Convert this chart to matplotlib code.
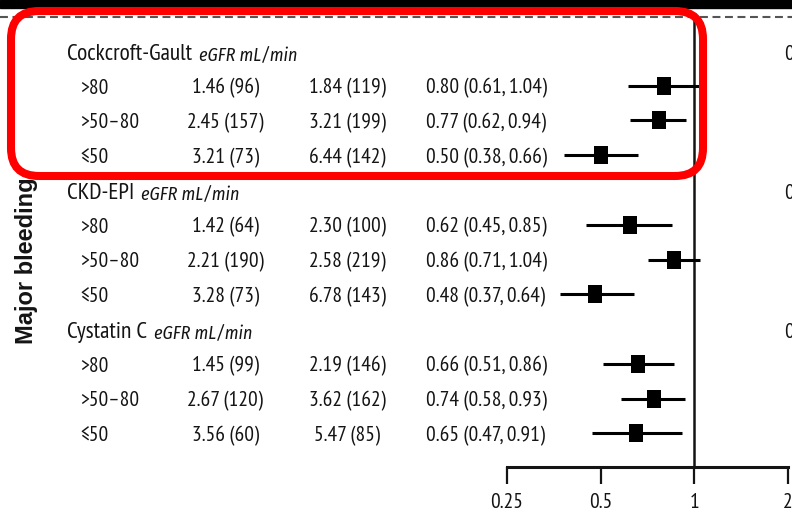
import numpy as np
import matplotlib
matplotlib.use('Agg')
import matplotlib.pyplot as plt
from matplotlib import font_manager
from matplotlib.path import Path
from matplotlib.patches import FancyBboxPatch, Rectangle
from matplotlib.lines import Line2D
from matplotlib.transforms import IdentityTransform, blended_transform_factory


def pick(cands, style='normal'):
    """ First installed family from cands that has the given style. """
    have = {(f.name, f.style) for f in font_manager.fontManager.ttflist}
    for c in cands:
        if (c, style) in have:
            return c
    return 'DejaVu Sans'


BODY = pick(['PT Sans Narrow', 'Fira Sans Condensed', 'Asap Condensed', 'Archivo Narrow'])
ITAL = pick(['PT Sans Narrow', 'Fira Sans Condensed', 'Asap Condensed', 'Archivo Narrow'], 'italic')
plt.rcParams['font.family'] = [BODY, 'DejaVu Sans']

# eGFR subgroups for major bleeding: event rate (n events) per arm, HR (95% CI)
groups = ['Cockcroft-Gault', 'CKD-EPI', 'Cystatin C']
strata = ['>80', '>50–80', '≤50']
rate_a = [1.46, 2.45, 3.21, 1.42, 2.21, 3.28, 1.45, 2.67, 3.56]
n_a = [96, 157, 73, 64, 190, 73, 99, 120, 60]
rate_b = [1.84, 3.21, 6.44, 2.30, 2.58, 6.78, 2.19, 3.62, 5.47]
n_b = [119, 199, 142, 100, 219, 143, 146, 162, 85]
hr = [0.80, 0.77, 0.50, 0.62, 0.86, 0.48, 0.66, 0.74, 0.65]
hr_lo = [0.61, 0.62, 0.38, 0.45, 0.71, 0.37, 0.51, 0.58, 0.47]
hr_hi = [1.04, 0.94, 0.66, 0.85, 1.04, 0.64, 0.86, 0.93, 0.91]
xticks = [0.25, 0.5, 1, 2]
xtick_labels = ['0.25', '0.5', '1', '2']

W, H = 792, 511
TXT = '#141414'
FS = 15.5
fig = plt.figure(figsize=(W / 100, H / 100), dpi=100)
fig.patch.set_facecolor('white')

# forest axis: log2 scale, 0.25 -> px 507, 2 -> px 788
px_per_oct = (788 - 507) / 3.0
x0 = 2 ** (-2 - 507 / px_per_oct)
x1 = 2 ** (-2 + (W - 507) / px_per_oct)
axis_px = 467
row0_px, row_step = 51, 34.75
ax = fig.add_axes([0, (H - axis_px) / H, 1, axis_px / H])
ax.set_xscale('log', base=2)
ax.set_xlim(x0, x1)
ax.set_ylim((axis_px - row0_px) / row_step, -row0_px / row_step)
ax.patch.set_alpha(0)
for s in ['top', 'left', 'right']:
    ax.spines[s].set_visible(False)
ax.spines['bottom'].set_bounds(0.25, 2)
ax.spines['bottom'].set_linewidth(2.2)
ax.spines['bottom'].set_color(TXT)
ax.set_yticks([])
ax.set_xticks(xticks)
ax.set_xticklabels(xtick_labels)
ax.xaxis.set_minor_locator(matplotlib.ticker.NullLocator())
ax.tick_params(axis='x', direction='out', length=12, width=1.6, pad=7,
               labelsize=FS, colors=TXT)

# line of no effect, from the dashed rule down to the axis
ax.axvline(1, ymin=0, ymax=(axis_px - 17) / axis_px, color=TXT, lw=1.8)


def fx(px):
    return px / W


rect = Path([(-0.36, -0.5), (0.36, -0.5), (0.36, 0.5), (-0.36, 0.5), (-0.36, -0.5)],
            [Path.MOVETO, Path.LINETO, Path.LINETO, Path.LINETO, Path.CLOSEPOLY])

tr = blended_transform_factory(ax.transAxes, ax.transData)
row = 0
k = 0
for g in groups:
    yb = row + 0.27
    htxt = ax.text(fx(67), yb, g, transform=tr, fontsize=16.8, va='baseline',
                   ha='left', color=TXT)
    ax.annotate('eGFR mL/min', xy=(1, yb), xycoords=(htxt, ax.transData),
                xytext=(5, 0), textcoords='offset points', fontsize=13,
                family=[ITAL, 'DejaVu Sans'], style='italic', va='baseline',
                ha='left', color=TXT)
    ax.text(fx(784), yb, '0', transform=tr, fontsize=FS, va='baseline',
            ha='left', color=TXT)
    row += 1
    for s in strata:
        yb = row + 0.23
        ax.text(fx(80), yb, s, transform=tr, fontsize=FS, va='baseline', color=TXT)
        ax.text(fx(225), yb, f'{rate_a[k]:.2f} ({n_a[k]})', transform=tr,
                fontsize=FS, va='baseline', ha='center', color=TXT)
        ax.text(fx(347), yb, f'{rate_b[k]:.2f} ({n_b[k]})', transform=tr,
                fontsize=FS, va='baseline', ha='center', color=TXT)
        ax.text(fx(426), yb, f'{hr[k]:.2f} ({hr_lo[k]:.2f}, {hr_hi[k]:.2f})',
                transform=tr, fontsize=FS, va='baseline', ha='left', color=TXT)
        ax.plot([hr_lo[k], hr_hi[k]], [row, row], color='black', lw=2.2,
                solid_capstyle='butt')
        ax.plot([hr[k]], [row], marker=rect, markersize=13.5, color='black',
                markeredgewidth=0)
        row += 1
        k += 1

fig.text(26 / W, 1 - 261 / H, 'Major bleeding', rotation=90, fontsize=17,
         fontweight='bold', family=['Liberation Sans', 'DejaVu Sans'],
         ha='center', va='center', color=TXT)

# header band and dashed rule
fig.add_artist(Rectangle((0, 1 - 8 / H), 1, 8 / H, transform=fig.transFigure,
                         color='black', zorder=5))
fig.add_artist(Line2D([0, 1], [1 - 17 / H] * 2, transform=fig.transFigure,
                      color='#555555', lw=1.5, ls=(0, (3.8, 2.2)), zorder=5))

# highlight box around the Cockcroft-Gault block
fig.add_artist(FancyBboxPatch((11, H - 176), 692, 165,
                              boxstyle='round,pad=0,rounding_size=28',
                              transform=IdentityTransform(), fill=False,
                              edgecolor='#ff0000', lw=5.8, zorder=10))

fig.savefig('out.png', dpi=100)
